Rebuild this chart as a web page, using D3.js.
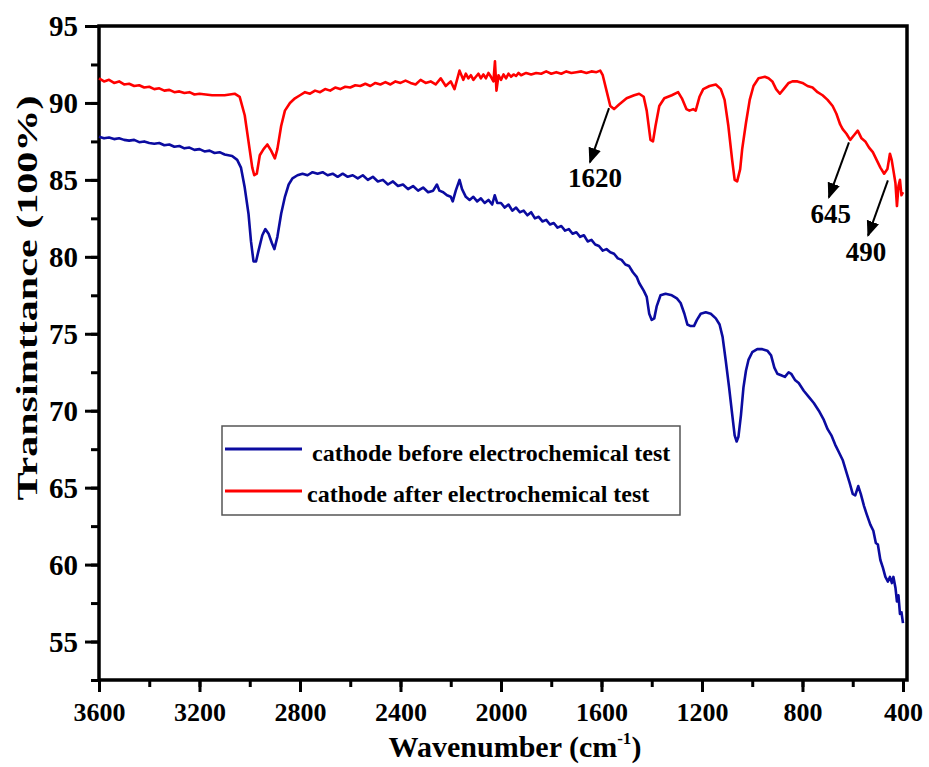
<!DOCTYPE html>
<html>
<head>
<meta charset="utf-8">
<script src="https://cdn.jsdelivr.net/npm/d3@7/dist/d3.min.js"></script>
<style>
  html, body { margin: 0; padding: 0; background: #fff; }
  svg { display: block; }
  text { font-family: "Liberation Serif", "Times New Roman", serif; font-weight: bold; fill: #000; }
</style>
</head>
<body>
<svg id="chart" width="929" height="767"></svg>
<script>
// ---------------- DATA ----------------
const xMajorTicks = [3600, 3200, 2800, 2400, 2000, 1600, 1200, 800, 400];
const yMajorTicks = [55, 60, 65, 70, 75, 80, 85, 90, 95];

const seriesNames = ["cathode before electrochemical test", "cathode after electrochemical test"];

// cathode before electrochemical test (blue)
const wnBefore = [3600,3580,3560,3540,3520,3500,3480,3460,3440,3420,3400,3380,3360,3340,3320,3300,3280,3260,3240,3220,3200,3180,3160,3140,3120,3100,3070,3050,3035,3020,3005,2995,2985,2975,2965,2950,2938,2925,2912,2902,2890,2875,2860,2845,
  2830,2810,2790,2770,2750,2730,2710,2690,2670,2650,2630,2610,2590,2570,2550,2530,2510,2490,2470,2450,2430,2410,2390,2370,2350,2330,2310,2290,2270,2255,2245,2230,2215,2200,2192,2180,2165,2155,2140,2125,2110,2095,2080,2065,2050,2035,2025,2015,2000,1985,1970,1955,1940,1925,1910,1895,1880,1865,1850,1835,1820,1805,1790,1775,1760,1745,1730,1715,1700,1685,1670,1655,1640,1625,1610,1595,1580,1565,1550,1535,1520,1505,1490,1475,1460,
  1450,1432,1420,1410,1400,1390,1380,1365,1345,1320,1300,1285,1270,1258,1245,1232,1220,1205,1185,1165,1145,1130,1118,1105,1092,1080,1070,1062,1055,1045,1035,1025,1015,1000,980,960,940,925,912,900,885,870,855,845,830,815,795,775,755,735,715,700,685,670,655,640,625,612,600,590,578,568,555,545,530,518,508,500,490,480,470,460,452,444,438,430,424,418,412,406,400];
const tBefore = [87.8,87.7,87.75,87.65,87.7,87.6,87.55,87.6,87.45,87.5,87.4,87.35,87.4,87.25,87.3,87.15,87.2,87.05,87.1,86.95,87.0,86.85,86.9,86.75,86.8,86.65,86.55,86.3,85.8,84.5,82.8,81.0,79.7,79.7,80.4,81.4,81.8,81.5,80.9,80.5,81.3,82.8,83.9,84.7,
  85.1,85.3,85.4,85.3,85.5,85.4,85.5,85.3,85.4,85.2,85.4,85.2,85.3,85.1,85.3,85.0,85.2,84.9,85.0,84.7,84.9,84.6,84.7,84.4,84.6,84.3,84.5,84.2,84.3,84.7,84.3,84.2,84.0,83.9,83.6,84.3,85.0,84.4,83.9,83.7,83.9,83.6,83.8,83.5,83.7,83.4,84.0,83.5,83.5,83.2,83.4,83.0,83.2,82.9,83.0,82.7,82.9,82.5,82.6,82.3,82.4,82.1,82.2,81.9,82.0,81.7,81.8,81.5,81.6,81.3,81.4,81.0,81.1,80.8,80.7,80.4,80.5,80.3,80.2,79.9,79.8,79.5,79.4,79.0,78.7,
  78.3,77.8,77.4,76.3,75.9,76.0,76.8,77.5,77.6,77.5,77.3,77.0,76.3,75.6,75.5,75.5,75.9,76.3,76.4,76.3,76.0,75.6,74.8,73.2,71.5,69.8,68.4,68.0,68.3,69.7,71.5,72.6,73.3,73.8,74.0,74.0,73.9,73.6,72.8,72.4,72.3,72.2,72.5,72.4,72.0,71.8,71.3,70.9,70.5,70.0,69.4,68.8,68.4,67.8,67.3,66.8,66.0,65.3,64.6,64.5,65.1,64.6,63.8,63.3,62.6,62.2,61.4,61.3,60.3,59.8,59.2,58.9,59.2,58.8,59.2,58.5,57.6,58.0,56.8,56.9,56.2];

// cathode after electrochemical test (red)
const wnAfter = [3600,3580,3560,3540,3520,3500,3480,3460,3440,3420,3400,3380,3360,3340,3320,3300,3280,3260,3240,3220,3200,3150,3100,3060,3040,3020,3005,2990,2982,2972,2960,2945,2930,2915,2900,2890,2875,2860,2840,2820,
  2800,2780,2760,2740,2720,2700,2680,2660,2640,2620,2600,2580,2560,2540,2520,2500,2480,2460,2440,2420,2400,2380,2360,2340,2320,2300,2280,2260,2240,2220,2200,2185,2175,2165,2150,2140,2130,2120,2110,2100,2090,2080,2070,2060,2050,2040,2030,2024,2018,2010,2000,1990,1980,1970,1960,1950,1940,1930,1920,1900,1880,1860,1840,1820,1800,1780,1760,1740,1720,1700,1680,1660,1640,1620,1605,
  1595,1580,1565,1550,1530,1500,1470,1450,1432,1420,1405,1395,1385,1370,1350,1320,1295,1280,1262,1250,1235,1225,1210,1195,1170,1145,1125,1110,1095,1080,1070,1060,1048,1040,1025,1010,995,975,950,935,920,905,890,875,855,840,820,800,780,760,740,720,700,680,665,650,640,625,610,595,580,565,550,535,520,505,490,475,462,452,445,438,430,424,418,412,406,400];
const tAfter = [91.6,91.4,91.5,91.3,91.4,91.2,91.25,91.1,91.15,91.0,91.05,90.9,90.95,90.8,90.85,90.7,90.75,90.65,90.7,90.55,90.6,90.5,90.5,90.6,90.4,89.2,87.5,85.8,85.3,85.4,86.6,87.0,87.3,86.9,86.4,87.0,88.5,89.5,90.0,90.3,
  90.5,90.7,90.6,90.8,90.7,90.9,90.8,91.0,90.9,91.05,91.0,91.15,91.1,91.25,91.1,91.3,91.2,91.35,91.2,91.4,91.3,91.45,91.3,91.2,91.5,91.3,91.4,91.2,91.6,91.1,91.4,90.9,91.5,92.1,91.5,91.9,91.6,91.8,91.5,91.7,91.9,91.6,91.85,91.6,91.95,91.7,91.4,92.7,90.8,91.8,91.5,91.85,91.6,91.9,91.7,91.85,91.75,91.95,91.8,91.95,91.85,91.95,91.9,92.05,91.9,92.0,91.9,92.05,91.95,92.0,92.05,91.95,92.05,92.0,92.1,
  91.8,90.8,89.8,89.6,89.9,90.3,90.5,90.6,90.4,89.5,87.6,87.5,88.5,89.8,90.3,90.5,90.7,90.3,89.6,89.5,89.6,89.5,90.4,90.9,91.1,91.2,90.9,90.2,88.5,86.3,85.0,84.9,85.7,87.0,88.7,90.2,91.1,91.6,91.7,91.6,91.4,90.9,90.6,90.9,91.3,91.4,91.4,91.3,91.1,91.0,90.7,90.5,90.2,89.8,89.3,88.6,88.3,88.0,87.6,87.9,88.2,87.7,87.5,87.1,86.8,86.3,85.8,85.4,85.7,86.7,86.3,85.6,84.8,83.3,84.6,85.0,84.0,84.2];

// peak annotations: label, arrow start (wn, T), arrow end (wn, T), label position (wn, T)
const peakLabels = ["1620", "645", "490"];
const arrowFromWn = [1570, 615, 460];
const arrowFromT  = [89.66, 87.44, 84.97];
const arrowToWn   = [1646, 695, 539];
const arrowToT    = [86.14, 83.86, 81.38];
const labelWn     = [1626, 687, 547];
const labelT      = [84.51, 82.17, 79.76];

// ---------------- CHART ----------------
(function () {
const svg = d3.select("#chart");
const pl = 99, pr = 907, pt = 26, pb = 680;

const x = d3.scaleLinear().domain([3600, 384]).range([pl, pr]);
const y = d3.scaleLinear().domain([52.5, 95]).range([pb, pt]);

const colors = ["#0b0ba0", "#ff0000"];

// minor ticks
const xMinor = d3.range(3600, 399, -200);
const yMinor = d3.range(52.5, 95.01, 2.5);

const gxMinor = svg.append("g").attr("transform", `translate(0,${pb})`)
  .call(d3.axisBottom(x).tickValues(xMinor).tickSize(7).tickFormat(""));
const gyMinor = svg.append("g").attr("transform", `translate(${pl},0)`)
  .call(d3.axisLeft(y).tickValues(yMinor).tickSize(8).tickFormat(""));

const gx = svg.append("g").attr("transform", `translate(0,${pb})`)
  .call(d3.axisBottom(x).tickValues(xMajorTicks).tickSize(12).tickPadding(11).tickFormat(d3.format("d")));
const gy = svg.append("g").attr("transform", `translate(${pl},0)`)
  .call(d3.axisLeft(y).tickValues(yMajorTicks).tickSize(14).tickPadding(7).tickFormat(d3.format("d")));

[gxMinor, gyMinor, gx, gy].forEach(g => {
  g.select(".domain").remove();
  g.selectAll(".tick line").attr("stroke", "#000").attr("stroke-width", 3);
});
gx.selectAll(".tick text").attr("font-size", 26).attr("dy", "0.71em")
  .style("font-family", '"Liberation Serif", serif').style("font-weight", "bold").attr("fill", "#000");
gy.selectAll(".tick text").attr("font-size", 29).attr("dy", "0.34em")
  .style("font-family", '"Liberation Serif", serif').style("font-weight", "bold").attr("fill", "#000");

// frame
svg.append("rect")
  .attr("x", pl).attr("y", pt)
  .attr("width", pr - pl).attr("height", pb - pt)
  .attr("fill", "none").attr("stroke", "#000").attr("stroke-width", 3.5);

// curves
const line = d3.line().x(d => x(d[0])).y(d => y(d[1]));
const series = [
  wnBefore.map((w, i) => [w, tBefore[i]]),
  wnAfter.map((w, i) => [w, tAfter[i]])
];
series.forEach((s, i) => {
  svg.append("path").datum(s)
    .attr("d", line)
    .attr("fill", "none")
    .attr("stroke", colors[i])
    .attr("stroke-width", 2.6)
    .attr("stroke-linejoin", "round");
});

// arrows
svg.append("defs").append("marker")
  .attr("id", "arrowhead")
  .attr("viewBox", "0 0 10 10")
  .attr("refX", 9).attr("refY", 5)
  .attr("markerWidth", 8).attr("markerHeight", 8)
  .attr("markerUnits", "strokeWidth")
  .attr("orient", "auto")
  .append("path").attr("d", "M0,1 L10,5 L0,9 z").attr("fill", "#000");

peakLabels.forEach((lab, i) => {
  svg.append("line")
    .attr("x1", x(arrowFromWn[i])).attr("y1", y(arrowFromT[i]))
    .attr("x2", x(arrowToWn[i])).attr("y2", y(arrowToT[i]))
    .attr("stroke", "#000").attr("stroke-width", 2)
    .attr("marker-end", "url(#arrowhead)");
  svg.append("text")
    .attr("x", x(labelWn[i])).attr("y", y(labelT[i]))
    .attr("text-anchor", "middle")
    .attr("font-size", 27)
    .text(lab);
});

// legend
const legend = svg.append("g");
legend.append("rect")
  .attr("x", 222).attr("y", 426).attr("width", 458).attr("height", 89)
  .attr("fill", "#fff").attr("stroke", "#555").attr("stroke-width", 1.5);
const legY = [449, 491];
const legTextX = [312, 307];
const legBase = [461, 502];
seriesNames.forEach((name, i) => {
  legend.append("line")
    .attr("x1", 225).attr("x2", 302).attr("y1", legY[i]).attr("y2", legY[i])
    .attr("stroke", colors[i]).attr("stroke-width", 3);
  legend.append("text")
    .attr("x", legTextX[i]).attr("y", legBase[i])
    .attr("font-size", 24)
    .text(name);
});

// axis titles
const xt = svg.append("text")
  .attr("x", 515).attr("y", 757)
  .attr("text-anchor", "middle")
  .attr("font-size", 30);
xt.append("tspan").text("Wavenumber (cm");
xt.append("tspan").attr("font-size", 17).attr("dy", -13).text("-1");
xt.append("tspan").attr("dy", 13).text(")");

svg.append("text")
  .attr("transform", "translate(37,298) rotate(-90)")
  .attr("text-anchor", "middle")
  .attr("font-size", 30)
  .attr("textLength", 405)
  .attr("lengthAdjust", "spacingAndGlyphs")
  .text("Transimttance (100%)");
})();
</script>
</body>
</html>
